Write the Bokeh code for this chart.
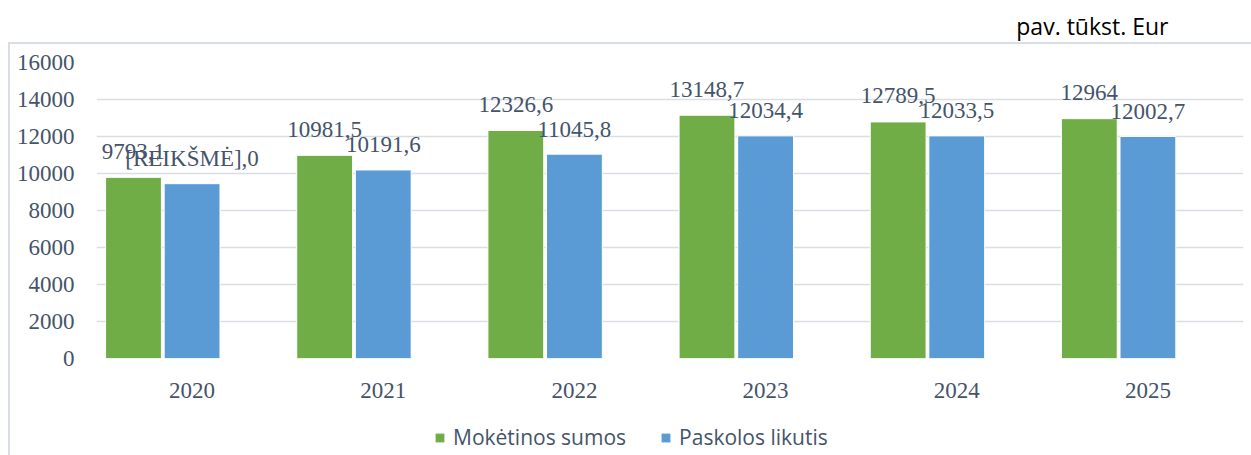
from bokeh.plotting import figure
from bokeh.models import (ColumnDataSource, FactorRange, Range1d, FixedTicker,
                          Legend, LegendItem, Label)
from bokeh.layouts import column
from bokeh.transform import dodge
from bokeh.core.properties import value
from bokeh.embed import file_html
from bokeh.resources import INLINE

years = ["2020", "2021", "2022", "2023", "2024", "2025"]
moketinos = [9793.1, 10981.5, 12326.6, 13148.7, 12789.5, 12964]
paskolos = [9450, 10191.6, 11045.8, 12034.4, 12033.5, 12002.7]
moketinos_labels = ["9793,1", "10981,5", "12326,6", "13148,7", "12789,5", "12964"]
paskolos_labels = ["[REIKŠMĖ],0", "10191,6", "11045,8", "12034,4", "12033,5", "12002,7"]
y_ticks = [0, 2000, 4000, 6000, 8000, 10000, 12000, 14000, 16000]
series_names = ["Mokėtinos sumos", "Paskolos likutis"]
unit_title = "pav. tūkst. Eur"

GREEN = "#70AD47"
BLUE = "#5B9BD5"
TXT = "#44546A"
FRAME = "#D9DEE6"
SERIF = "Liberation Serif"
W = 1251
BL, BR = 96, 8   # left / right borders shared by all strips

src = ColumnDataSource(dict(year=years, m=moketinos, p=paskolos,
                            ml=moketinos_labels, pl=paskolos_labels))

# ---- title strip ------------------------------------------------------
t = figure(width=W, height=42, x_range=Range1d(BL, W - BR), y_range=Range1d(0, 42),
           output_backend="svg", toolbar_location=None,
           x_axis_location=None, y_axis_location=None,
           min_border_left=BL, min_border_right=BR, min_border_top=0, min_border_bottom=0)
t.outline_line_color = None
t.xgrid.visible = False
t.ygrid.visible = False
t.border_fill_color = "white"
t.add_layout(Label(x=1168, y=17, text=unit_title, text_align="right",
                   text_baseline="middle", text_font="Open Sans",
                   text_font_size="23px", text_color="black"))

# ---- main chart -------------------------------------------------------
p = figure(width=W, height=376,
           x_range=FactorRange(factors=years, range_padding=0),
           y_range=Range1d(0, 16000),
           output_backend="svg", toolbar_location=None,
           min_border_left=BL, min_border_right=BR,
           min_border_top=20, min_border_bottom=60)
p.outline_line_color = None
p.background_fill_color = "white"
p.border_fill_color = None
p.styles = {
    "background-color": "white",
    "background-image": f"linear-gradient({FRAME},{FRAME}), linear-gradient({FRAME},{FRAME})",
    "background-size": "calc(100% - 8px) 2px, 2px 100%",
    "background-position": "8px 0px, 8px 0px",
    "background-repeat": "no-repeat",
}

bw = 0.292
off = 0.3065
p.vbar(x=dodge("year", -off, range=p.x_range), top="m", width=bw, source=src,
       fill_color=GREEN, line_color="white", line_width=1)
p.vbar(x=dodge("year", 0, range=p.x_range), top="p", width=bw, source=src,
       fill_color=BLUE, line_color="white", line_width=1)

p.text(x=dodge("year", -off, range=p.x_range), y="m", text="ml", source=src,
       text_align="center", text_baseline="alphabetic", y_offset=-26,
       text_font=value(SERIF), text_font_size="23px", text_color=TXT)
p.text(x=dodge("year", 0, range=p.x_range), y="p", text="pl", source=src,
       text_align="center", text_baseline="alphabetic", y_offset=-25,
       text_font=value(SERIF), text_font_size="23px", text_color=TXT)

for ax in (p.xaxis, p.yaxis):
    ax.axis_line_color = None
    ax.major_tick_line_color = None
    ax.minor_tick_line_color = None
    ax.major_label_text_font = SERIF
    ax.major_label_text_font_size = "23px"
    ax.major_label_text_color = TXT
p.xaxis.major_label_standoff = 18
p.yaxis.major_label_standoff = 16
p.yaxis.ticker = FixedTicker(ticks=y_ticks)

p.xgrid.grid_line_color = None
p.ygrid.grid_line_color = "#D9DEE5"
p.ygrid.grid_line_width = 1.5

# ---- legend strip -----------------------------------------------------
q = figure(width=W, height=37, x_range=Range1d(0, 1), y_range=Range1d(0, 1),
           output_backend="svg", toolbar_location=None,
           x_axis_location=None, y_axis_location=None,
           min_border_left=BL, min_border_right=BR, min_border_top=0, min_border_bottom=0)
q.outline_line_color = None
q.xgrid.visible = False
q.ygrid.visible = False
q.border_fill_color = None
q.background_fill_alpha = 0
q.styles = {
    "background-color": "white",
    "background-image": f"linear-gradient({FRAME},{FRAME})",
    "background-size": "2px 100%",
    "background-position": "8px 0px",
    "background-repeat": "no-repeat",
}
# zero-size stand-ins so that the legend swatches can be drawn in this strip
g1 = q.vbar(x=[0.5], top=[0], bottom=[0], width=0, fill_color=GREEN, line_color=None)
g2 = q.vbar(x=[0.5], top=[0], bottom=[0], width=0, fill_color=BLUE, line_color=None)
legend = Legend(items=[LegendItem(label=series_names[0], renderers=[g1]),
                       LegendItem(label=series_names[1], renderers=[g2])],
                orientation="horizontal", location=(434 - BL, 4),
                label_text_font="Open Sans", label_text_font_size="21px",
                label_text_color=TXT, glyph_width=11, glyph_height=11,
                label_standoff=8, spacing=34, padding=0, margin=0,
                border_line_color=None, background_fill_alpha=0)
q.add_layout(legend)

layout = column(t, p, q, spacing=0)
open("out.html", "w").write(file_html(layout, INLINE))
